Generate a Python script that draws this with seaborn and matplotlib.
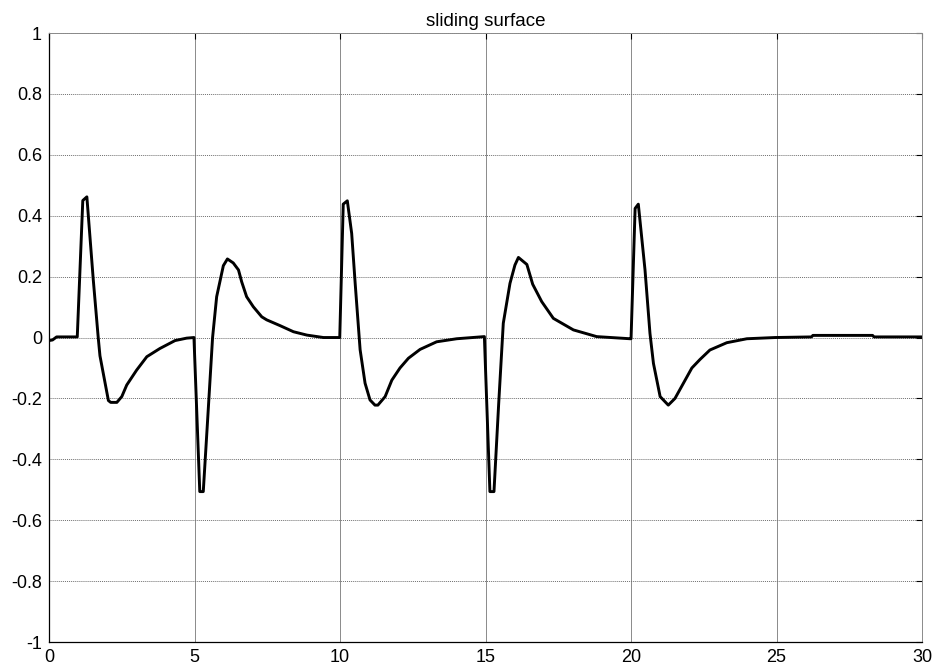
import matplotlib
matplotlib.use("Agg")
import matplotlib.pyplot as plt
import seaborn as sns
import pandas as pd

# values
t = [0, 0.12, 0.26, 0.97, 1.16, 1.30, 1.52, 1.69, 1.75, 2.04, 2.12, 2.33, 2.50, 2.67,
     3.01, 3.36, 3.81, 4.33, 4.73, 4.98, 5.18, 5.30, 5.45, 5.62, 5.76, 5.99, 6.13,
     6.33, 6.51, 6.62, 6.79, 7.02, 7.31, 7.48, 7.94, 8.40, 8.86, 9.43, 9.99,
     10.11, 10.25, 10.40, 10.52, 10.69, 10.86, 11.03, 11.20, 11.30, 11.55, 11.78,
     12.06, 12.35, 12.75, 13.32, 14.01, 14.96, 15.15, 15.29, 15.45, 15.61, 15.84,
     16.01, 16.13, 16.42, 16.62, 16.93, 17.33, 18.02, 18.82, 19.97, 20.00,
     20.14, 20.25, 20.48, 20.65, 20.77, 21.00, 21.28, 21.51, 21.80, 22.09, 22.37,
     22.71, 23.29, 23.98, 24.95, 26.20, 26.25, 28.30, 28.35, 30.0]
s = [-0.010, -0.008, 0.002, 0.002, 0.450, 0.462, 0.190, 0.000, -0.060, -0.207, -0.213,
     -0.213, -0.194, -0.156, -0.107, -0.063, -0.036, -0.010, -0.002, 0.000, -0.506,
     -0.506, -0.270, 0.000, 0.134, 0.236, 0.258, 0.245, 0.222, 0.183, 0.134, 0.101,
     0.068, 0.058, 0.039, 0.019, 0.008, 0.000, 0.000,
     0.438, 0.449, 0.342, 0.178, -0.040, -0.150, -0.205, -0.222, -0.222, -0.194,
     -0.140, -0.100, -0.068, -0.039, -0.014, -0.004, 0.003, -0.506, -0.506, -0.220,
     0.047, 0.178, 0.238, 0.263, 0.240, 0.175, 0.118, 0.063, 0.025, 0.003, -0.004,
     -0.004, 0.424, 0.438, 0.222, 0.014, -0.085, -0.194, -0.222, -0.200, -0.150,
     -0.100, -0.072, -0.041, -0.017, -0.004, 0.000, 0.002, 0.007, 0.007, 0.002, 0.002]

x_ticks = [0, 5, 10, 15, 20, 25, 30]
y_ticks = [-1, -0.8, -0.6, -0.4, -0.2, 0, 0.2, 0.4, 0.6, 0.8, 1]
y_tick_labels = ["-1", "-0.8", "-0.6", "-0.4", "-0.2", "0", "0.2", "0.4", "0.6", "0.8", "1"]
title = "sliding surface"

sns.set_theme(style="white")
plt.rcParams['font.family'] = ['Liberation Sans', 'DejaVu Sans']

fig = plt.figure(figsize=(9.34, 6.66), dpi=100)
ax = fig.add_axes([0.0525, 0.036, 0.9347, 0.9144])

df = pd.DataFrame({"t": t, "s": s})
sns.lineplot(data=df, x="t", y="s", sort=False, estimator=None,
             color="black", linewidth=2.1, ax=ax)

ax.set_xlim(0, 30)
ax.set_ylim(-1, 1)
ax.set_xticks(x_ticks)
ax.set_xticklabels([str(v) for v in x_ticks])
ax.set_yticks(y_ticks)
ax.set_yticklabels(y_tick_labels)
ax.set_xlabel("")
ax.set_ylabel("")
ax.set_title(title, fontsize=13.5, pad=5, color="black")

# MATLAB-like grid and box
ax.xaxis.grid(True, color="#8a8a8a", linestyle="-", linewidth=0.7)
ax.yaxis.grid(True, color="#6f6f6f", linestyle=(0, (1, 1)), linewidth=0.7)
ax.set_axisbelow(True)
ax.tick_params(direction="in", length=4, width=0.8, colors="black",
               labelsize=13, top=True, right=True, pad=5)
for side in ["left", "bottom"]:
    ax.spines[side].set_color("black")
    ax.spines[side].set_linewidth(0.9)
for side in ["top", "right"]:
    ax.spines[side].set_color("#8a8a8a")
    ax.spines[side].set_linewidth(0.7)

plt.savefig("out.png", dpi=100)
plt.close()
